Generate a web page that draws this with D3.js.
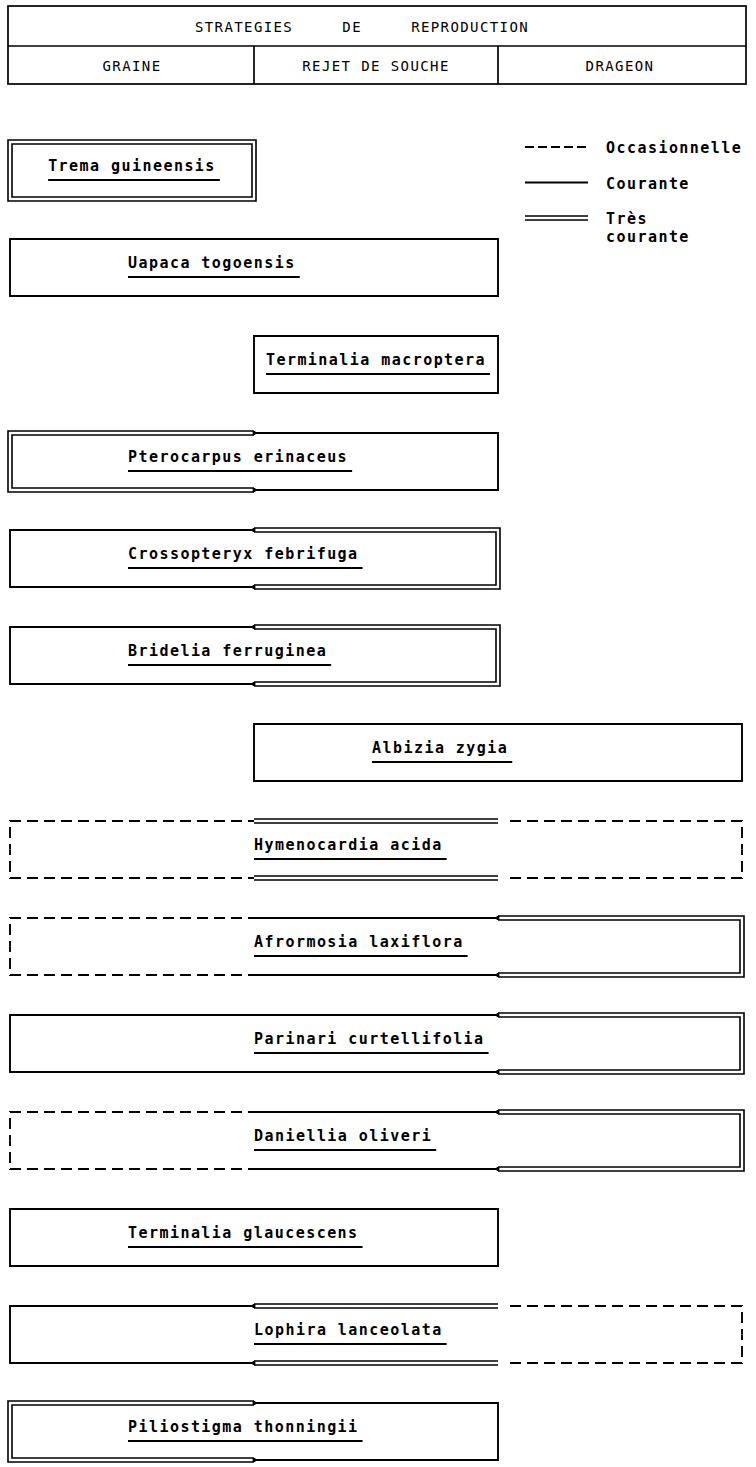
<!DOCTYPE html>
<html><head><meta charset="utf-8">
<script src="https://cdn.jsdelivr.net/npm/d3@7"></script>
<style>body{margin:0;background:#fff}svg{display:block}</style>
</head><body><svg id="c" width="756" height="1467"></svg>
<script>
// ---------- data ----------
const title = "STRATEGIES     DE     REPRODUCTION";
const strategies = ["GRAINE", "REJET DE SOUCHE", "DRAGEON"];
const species = [
  "Trema guineensis", "Uapaca togoensis", "Terminalia macroptera",
  "Pterocarpus erinaceus", "Crossopteryx febrifuga", "Bridelia ferruginea",
  "Albizia zygia", "Hymenocardia acida", "Afrormosia laxiflora",
  "Parinari curtellifolia", "Daniellia oliveri", "Terminalia glaucescens",
  "Lophira lanceolata", "Piliostigma thonningii"
];
// O = occasionnelle, C = courante, T = très courante, null = absent
const graine  = ["T", "C", null, "T", "C", "C", null, "O", "O", "C", "O", "C", "C", "T"];
const rejet   = [null, "C", "C", "C", "T", "T", "C", "T", "C", "C", "C", "C", "T", "C"];
const drageon = [null, null, null, null, null, null, "C", "O", "T", "T", "T", null, "O", null];
const legendKeys = ["O", "C", "T"];
const legendLabels = [["Occasionnelle"], ["Courante"], ["Très", "courante"]];

// ---------- layout ----------
const svg = d3.select("#c");
const SW = 1.9, DOFF = 2, DASH = "11,6";
const mono = "'DejaVu Sans Mono', 'Liberation Mono', monospace";

const x = d3.scaleBand().domain(strategies).range([10, 742]);
const colW = x.bandwidth();
const y = d3.scaleBand().domain(species).range([142, 1460]).paddingInner(0.412);
const bh = y.bandwidth();

// ---------- header ----------
const head = svg.append("g");
const hx0 = x.range()[0] - 2, hx1 = x.range()[1] + 4;
const hy0 = 6, hyM = 46, hy1 = 84;
head.append("rect").attr("x", hx0).attr("y", hy0).attr("width", hx1 - hx0).attr("height", hy1 - hy0)
  .attr("fill", "none").attr("stroke", "#000").attr("stroke-width", 1.7);
head.append("line").attr("x1", hx0).attr("x2", hx1).attr("y1", hyM).attr("y2", hyM)
  .attr("stroke", "#000").attr("stroke-width", 1.7);
strategies.slice(1).forEach(s => {
  head.append("line").attr("x1", x(s)).attr("x2", x(s)).attr("y1", hyM).attr("y2", hy1)
    .attr("stroke", "#000").attr("stroke-width", 1.7);
});
head.append("text").attr("x", 362).attr("y", 32).attr("text-anchor", "middle")
  .style("white-space", "pre").attr("xml:space", "preserve")
  .attr("font-family", mono).attr("font-size", 14).attr("letter-spacing", 1.4)
  .text(title);
head.selectAll("text.col").data(strategies).join("text").attr("class", "col")
  .attr("x", d => x(d) + colW / 2).attr("y", 71).attr("text-anchor", "middle")
  .attr("font-family", mono).attr("font-size", 14).attr("letter-spacing", 1.4)
  .text(d => d);

// ---------- segment drawing ----------
function edgePath(xa, xb, y0, y1, L, R, o) {
  const a = L ? xa - o : xa, b = R ? xb + o : xb, t = y0 - o, u = y1 + o;
  if (L && R) return `M${a},${t}H${b}V${u}H${a}Z`;
  if (L) return `M${b},${t}H${a}V${u}H${b}`;
  if (R) return `M${a},${t}H${b}V${u}H${a}`;
  return `M${a},${t}H${b}M${a},${u}H${b}`;
}
function line(g, d, dash) {
  const p = g.append("path").attr("d", d).attr("fill", "none").attr("stroke", "#000")
    .attr("stroke-width", SW);
  if (dash) p.attr("stroke-dasharray", DASH).attr("stroke-dashoffset", 5.5);
  return p;
}
function drawSeg(g, s, xa, xb, y0, y1, L, R, prev, next) {
  const ym = (y0 + y1) / 2;
  if (s === "C") {
    line(g, edgePath(xa, xb, y0, y1, L, R, 0));
  } else if (s === "T") {
    line(g, edgePath(xa, xb, y0, y1, L, R, DOFF)).attr("stroke-width", 1.6);
    line(g, edgePath(xa, xb, y0, y1, L, R, -DOFF)).attr("stroke-width", 1.6);
    const conn = xx => {
      line(g, `M${xx},${y0 - DOFF}V${y0 + DOFF}M${xx},${y1 - DOFF}V${y1 + DOFF}`).attr("stroke-width", 2.8);
    };
    if (prev === "C") conn(xa);
    if (next === "C") conn(xb);
  } else if (s === "O") {
    const a = (!L && prev === "T") ? xa + 10 : xa;
    if (L) {
      line(g, `M${a},${ym}V${y0}H${xb}`, true);
      line(g, `M${a},${ym}V${y1}H${xb}`, true);
    } else if (R) {
      line(g, `M${xb},${ym}V${y0}H${a}`, true);
      line(g, `M${xb},${ym}V${y1}H${a}`, true);
    } else {
      line(g, `M${a},${y0}H${xb}`, true);
      line(g, `M${a},${y1}H${xb}`, true);
    }
  }
}

// ---------- species rows ----------
species.forEach((sp, i) => {
  const styles = [graine[i], rejet[i], drageon[i]];
  const present = styles.map((s, j) => s ? j : -1).filter(j => j >= 0);
  const first = d3.min(present), last = d3.max(present);
  const y0 = y(sp), y1 = y0 + bh;
  const g = svg.append("g").attr("class", "row");
  present.forEach(j => {
    const xa = x(strategies[j]), xb = xa + colW;
    drawSeg(g, styles[j], xa, xb, y0, y1, j === first, j === last,
      j > first ? styles[j - 1] : null, j < last ? styles[j + 1] : null);
  });
  const n = last - first + 1;
  const left = x(strategies[first]);
  const tx = n === 1 ? left + colW / 2 : left + (n - 1) * colW / 2 - (n === 2 ? 4 : 0);
  const t = g.append("text").attr("x", tx).attr("y", y0 + 29)
    .attr("text-anchor", n === 1 ? "middle" : "start")
    .attr("font-family", mono).attr("font-size", 15).attr("font-weight", "bold")
    .attr("letter-spacing", 1.45).text(sp);
  const bb = t.node().getBBox();
  g.append("line").attr("x1", bb.x).attr("x2", bb.x + bb.width + 4)
    .attr("y1", y0 + 38).attr("y2", y0 + 38).attr("stroke", "#000").attr("stroke-width", 1.9);
});

// ---------- legend ----------
const lx0 = 525, lx1 = 588, ltx = 606;
const ly = d3.scalePoint().domain(legendKeys).range([147, 218]);
const lg = svg.append("g");
legendKeys.forEach((k, i) => {
  const yy = ly(k);
  if (k === "O") {
    lg.append("line").attr("x1", lx0).attr("x2", lx1).attr("y1", yy).attr("y2", yy)
      .attr("stroke", "#000").attr("stroke-width", SW).attr("stroke-dasharray", "9,4");
  } else if (k === "C") {
    lg.append("line").attr("x1", lx0).attr("x2", lx1).attr("y1", yy).attr("y2", yy)
      .attr("stroke", "#000").attr("stroke-width", SW);
  } else {
    [-DOFF, DOFF].forEach(o => lg.append("line").attr("x1", lx0).attr("x2", lx1)
      .attr("y1", yy + o).attr("y2", yy + o).attr("stroke", "#000").attr("stroke-width", 1.6));
  }
  legendLabels[i].forEach((lab, m) => {
    lg.append("text").attr("x", ltx).attr("y", yy + 6 + m * 18)
      .attr("font-family", mono).attr("font-size", 15).attr("font-weight", "bold")
      .attr("letter-spacing", 1.45).text(lab);
  });
});
</script></body></html>
